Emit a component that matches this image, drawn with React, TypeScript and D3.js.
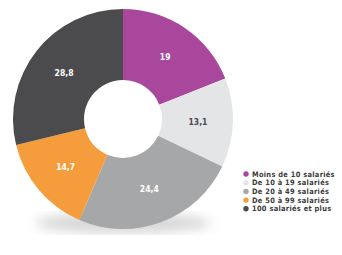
import React, { useEffect, useRef } from "react";
import * as d3 from "d3";

const categories = [
  "Moins de 10 salariés",
  "De 10 à 19 salariés",
  "De 20 à 49 salariés",
  "De 50 à 99 salariés",
  "100 salariés et plus",
];
const values = [19, 13.1, 24.4, 14.7, 28.8];
const valueLabels = ["19", "13,1", "24,4", "14,7", "28,8"];
const colors = ["#a9479c", "#e4e5e7", "#a6a7a9", "#f59d3d", "#4b4b4d"];
const labelColors = ["#ffffff", "#4b4b4d", "#ffffff", "#ffffff", "#ffffff"];

const App = () => {
  const svgRef = useRef<SVGSVGElement>(null);

  useEffect(() => {
    const svg = d3.select(svgRef.current);
    svg.selectAll("*").remove();

    const cx = 123;
    const cy = 119;
    const outer = 110;
    const inner = 39;
    const font = "'DejaVu Sans Condensed', 'DejaVu Sans', sans-serif";

    // soft shadow under the ring
    const defs = svg.append("defs");
    defs
      .append("filter")
      .attr("id", "blur")
      .append("feGaussianBlur")
      .attr("stdDeviation", 6);
    svg
      .append("ellipse")
      .attr("cx", cx)
      .attr("cy", cy + outer - 6)
      .attr("rx", outer * 0.8)
      .attr("ry", 10)
      .attr("fill", "#d6d6d6")
      .attr("filter", "url(#blur)");

    const data = values.map((v, i) => ({ v, i }));
    const pie = d3
      .pie<{ v: number; i: number }>()
      .value((d) => d.v)
      .sort(null);
    const arc = d3
      .arc<d3.PieArcDatum<{ v: number; i: number }>>()
      .innerRadius(inner)
      .outerRadius(outer);
    const labelArc = d3
      .arc<d3.PieArcDatum<{ v: number; i: number }>>()
      .innerRadius(75)
      .outerRadius(75);

    const g = svg.append("g").attr("transform", `translate(${cx},${cy})`);
    const arcs = pie(data);

    g.selectAll("path")
      .data(arcs)
      .enter()
      .append("path")
      .attr("d", arc)
      .attr("fill", (d) => colors[d.data.i]);

    g.selectAll("text")
      .data(arcs)
      .enter()
      .append("text")
      .attr("transform", (d) => `translate(${labelArc.centroid(d)})`)
      .attr("text-anchor", "middle")
      .attr("dy", "0.35em")
      .attr("font-family", font)
      .attr("font-weight", "bold")
      .attr("font-size", 8.5)
      .attr("fill", (d) => labelColors[d.data.i])
      .text((d) => valueLabels[d.data.i]);

    // legend
    const legend = svg
      .append("g")
      .selectAll("g")
      .data(categories)
      .enter()
      .append("g")
      .attr("transform", (d, i) => `translate(246,${174 + i * 8.7})`);

    legend
      .append("circle")
      .attr("r", 2.7)
      .attr("fill", (d, i) => colors[i]);

    legend
      .append("text")
      .attr("x", 6)
      .attr("dy", "0.35em")
      .attr("font-family", font)
      .attr("font-weight", "bold")
      .attr("font-size", 7.4)
      .attr("letter-spacing", 0.3)
      .attr("fill", "#3a3a3c")
      .text((d) => d);
  }, []);

  return (
    <svg
      ref={svgRef}
      width={342}
      height={255}
      style={{ position: "absolute", left: 0, top: 0, background: "#ffffff" }}
    ></svg>
  );
};

export default App;
